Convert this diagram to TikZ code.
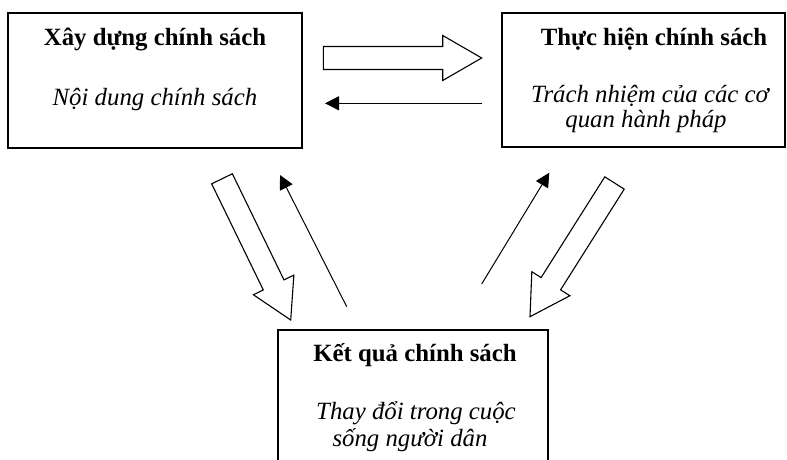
\documentclass[tikz,border=0pt]{standalone}
\usepackage{fontspec}
\setmainfont{Liberation Serif}
\usetikzlibrary{calc,arrows.meta}
\newcommand\blockarrow[2]{%
  \draw[hollow] let \p1=(#1), \p2=(#2),
    \n1={atan2(\y2-\y1,\x2-\x1)},
    \n2={veclen(\x2-\x1,\y2-\y1)-39} in
    ($(\p1)+(\n1+90:11.5pt)$) -- ($(\p1)+(\n1:\n2)+(\n1+90:11.5pt)$)
    -- ($(\p1)+(\n1:\n2)+(\n1+90:22.5pt)$) -- (\p2)
    -- ($(\p1)+(\n1:\n2)+(\n1-90:22.5pt)$) -- ($(\p1)+(\n1:\n2)+(\n1-90:11.5pt)$)
    -- ($(\p1)+(\n1-90:11.5pt)$) -- cycle;
}
\begin{document}
\begin{tikzpicture}[x=1pt,y=1pt,
  box/.style={draw, line width=1.4pt, rectangle, inner sep=0pt},
  title/.style={anchor=base, font=\fontsize{24.8}{29}\selectfont\bfseries, inner sep=0pt},
  body/.style={anchor=base, font=\fontsize{24.8}{29}\selectfont\itshape, inner sep=0pt},
  hollow/.style={draw, line width=1.1pt, line join=miter, fill=white},
  thinarrow/.style={line width=1pt, -{Triangle[length=14pt,width=14pt]}}]
\useasboundingbox (0,0) rectangle (787,460);
\clip (0,0) rectangle (787,460);
\fill[white] (0,0) rectangle (787,460);
% boxes
\node[box, minimum width=294pt, minimum height=135pt] (b1) at (155,379.5) {};
\node[box, minimum width=283pt, minimum height=134pt] (b2) at (643.5,380) {};
\node[box, minimum width=270pt, minimum height=150pt] (b3) at (413,55) {};
% texts
\node[title] (t1) at (155,414) {Xây dựng chính sách};
\node[body] (s1) at (155,354) {Nội dung chính sách};
\node[title] (t2) at (654,414) {Thực hiện chính sách};
\node[body] (s2a) at (650,357) {Trách nhiệm của các cơ};
\node[body] (s2b) at (646,332) {quan hành pháp};
\node[title] (t3) at (415,98) {Kết quả chính sách};
\node[body] (s3a) at (416,40) {Thay đổi trong cuộc};
\node[body] (s3b) at (410,13) {sống người dân};
% arrow end points
\coordinate (h1a) at (323.3,402); \coordinate (h1b) at (481.7,402);
\coordinate (a1a) at (481.7,356.7); \coordinate (a1b) at (325,356.7);
\coordinate (h2a) at (222,281.2); \coordinate (h2b) at (290.7,140);
\coordinate (a2a) at (346.7,153.3); \coordinate (a2b) at (280,285);
\coordinate (a3a) at (481.7,176); \coordinate (a3b) at (549.3,287.3);
\coordinate (h3a) at (614.5,277); \coordinate (h3b) at (530,143.3);
% arrows
\blockarrow{h1a}{h1b}
\blockarrow{h2a}{h2b}
\blockarrow{h3a}{h3b}
\draw[thinarrow] (a1a) -- (a1b);
\draw[thinarrow] (a2a) -- (a2b);
\draw[thinarrow] (a3a) -- (a3b);
\end{tikzpicture}
\end{document}
